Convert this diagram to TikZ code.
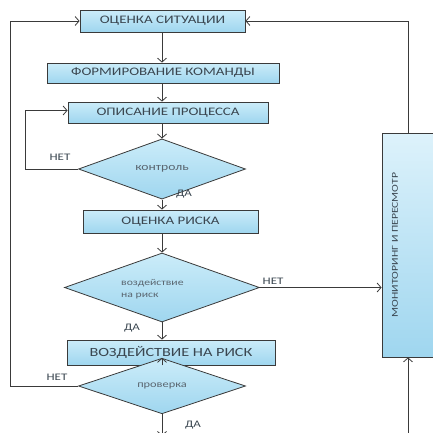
\documentclass[tikz,border=0pt]{standalone}
\usepackage{fontspec}
\setmainfont{Carlito}
\newfontfamily\boxfont[FakeStretch=1.3]{Carlito}
\usetikzlibrary{shapes.geometric,arrows.meta,calc}
\definecolor{linec}{HTML}{3A3A3A}
\definecolor{txtc}{HTML}{3A4650}
\definecolor{dtxtc}{HTML}{5A6670}
\definecolor{filltop}{HTML}{CBECF9}
\definecolor{fillbot}{HTML}{9FD6EF}
\definecolor{montop}{HTML}{DDF2FB}
\tikzset{
  every node/.style={text=txtc},
  procbox/.style={draw=linec, line width=0.8pt, top color=filltop, bottom color=fillbot,
    inner sep=0pt, font=\boxfont\fontsize{11.5}{13}\selectfont},
  decbox/.style={diamond, draw=linec, line width=0.8pt, top color=filltop, bottom color=fillbot,
    inner sep=0pt, text=dtxtc, font=\boxfont\fontsize{8}{10}\selectfont},
  conn/.style={draw=linec, line width=0.8pt},
  arr/.style={conn, -{Straight Barb[length=4pt,width=9pt]}},
  lbl/.style={font=\boxfont\fontsize{10}{12}\selectfont, inner sep=0pt}
}
\begin{document}
\begin{tikzpicture}[x=1pt,y=-1pt]
\useasboundingbox (0,0) rectangle (433,432);
\node[procbox, minimum width=165pt, minimum height=22pt] (b1) at (162.5,21) {ОЦЕНКА СИТУАЦИИ};
\node[procbox, minimum width=232pt, minimum height=20pt] (b2) at (163,73) {ФОРМИРОВАНИЕ КОМАНДЫ};
\node[procbox, minimum width=200pt, minimum height=21pt] (b3) at (168,112.5) {ОПИСАНИЕ ПРОЦЕССА};
\node[decbox, minimum width=167pt, minimum height=42pt] (d1) at (162,169) {\fontsize{10.5}{12}\selectfont контроль};
\node[procbox, minimum width=175pt, minimum height=23pt] (b4) at (170.5,221.5) {ОЦЕНКА РИСКА};
\node[decbox, minimum width=195pt, minimum height=69pt] (d2) at (162,287.5) {};
\node[lbl, text=dtxtc, font=\boxfont\fontsize{9}{11.5}\selectfont, align=left, anchor=west] (d2t) at (121,289) {воздействие\\на риск};
\node[procbox, minimum width=208pt, minimum height=25pt, font=\boxfont\fontsize{12.5}{14}\selectfont] (b5) at (171,352.5) {ВОЗДЕЙСТВИЕ НА РИСК};
\node[decbox, minimum width=167pt, minimum height=38pt] (d3) at (162,386) {\fontsize{9.5}{11}\selectfont проверка};
\node[draw=linec, line width=0.8pt, top color=montop, bottom color=fillbot, minimum width=70pt, minimum height=224pt, inner sep=0pt] (mon) at (417,245) {};
\node[rotate=90, font=\boxfont\fontsize{9}{11}\selectfont] (mont) at (395,245) {МОНИТОРИНГ И ПЕРЕСМОТР};
\coordinate (mx) at (408,0);
\coordinate (cx) at (162,0);
\coordinate (l1) at (25,0);
\coordinate (l2) at (10,0);
\coordinate (endd) at (162,436);
\coordinate (startm) at (408,436);
% main column
\draw[arr] (b1.south -| cx) -- (b2.north -| cx);
\draw[arr] (b2.south -| cx) -- (b3.north -| cx);
\draw[arr] (b3.south -| cx) -- (d1.north);
\draw[arr] (d1.south) -- (b4.north -| cx);
\draw[arr] (b4.south -| cx) -- (d2.north);
\draw[arr] (d2.south) -- (b5.north -| cx);
\draw[arr] (b5.south -| cx) -- (d3.north);
\draw[arr] (d3.south) -- (endd);
% loops
\draw[arr] (d1.west) -- (d1.west -| l1) -- ([yshift=2pt]b3.west -| l1) -- ([yshift=2pt]b3.west);
\draw[arr] (d3.west) -- (d3.west -| l2) -- (b1.west -| l2) -- (b1.west);
\draw[arr] (d2.east) -- (d2.east -| mon.west);
\draw[arr] (mon.north -| mx) -- (b1.east -| mx) -- (b1.east);
\draw[arr] (startm) -- (mon.south -| mx);
% labels
\node[lbl] (n1) at (60,157) {НЕТ};
\node[lbl] (y1) at (184,194) {ДА};
\node[lbl] (n2) at (273,281) {НЕТ};
\node[lbl] (y2) at (132,328) {ДА};
\node[lbl] (n3) at (57,377) {НЕТ};
\node[lbl] (y3) at (193,425) {ДА};
\end{tikzpicture}
\end{document}
